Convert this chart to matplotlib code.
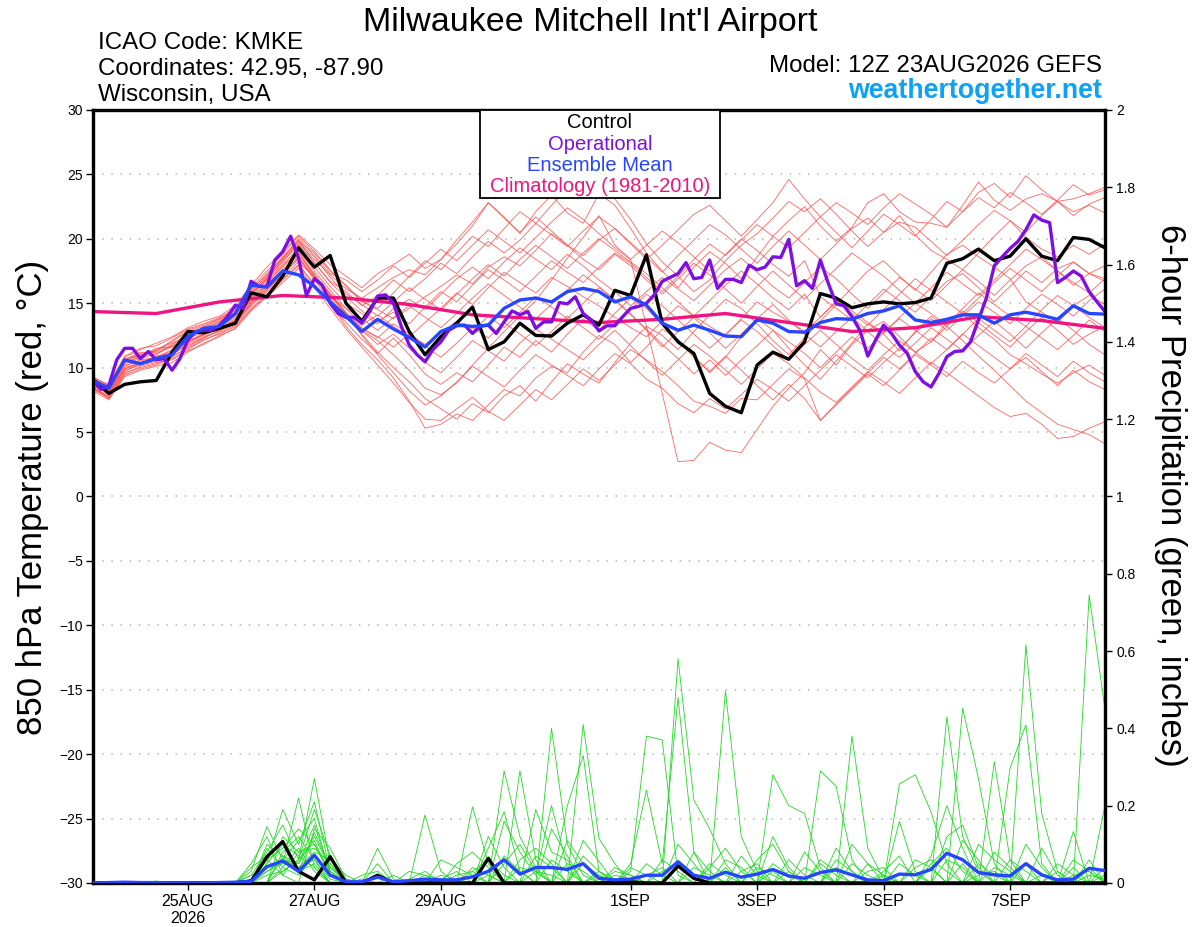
"""
GEFS plume for KMKE: 850 hPa temperature members (red) and 6-hour precipitation members (green).
Output: out.png
"""
import matplotlib; matplotlib.use('Agg')
import matplotlib.pyplot as plt
import matplotlib.dates as mdates
from matplotlib.patches import Rectangle
import numpy as np

plt.rcParams['font.family'] = ['Liberation Sans', 'DejaVu Sans']

# time axes (run 12Z 23AUG2026, 16 days)
T6 = np.arange(np.datetime64('2026-08-23T12'), np.datetime64('2026-09-08T13'), np.timedelta64(6, 'h'))
T3 = np.arange(np.datetime64('2026-08-23T12'), np.datetime64('2026-09-08T13'), np.timedelta64(3, 'h'))
T_CLIM = np.arange(np.datetime64('2026-08-23T12'), np.datetime64('2026-09-08T13'), np.timedelta64(24, 'h'))

TICK_DATES = ['2026-08-25', '2026-08-27', '2026-08-29', '2026-09-01', '2026-09-03', '2026-09-05', '2026-09-07']
TICK_LABELS = ['25AUG\n2026', '27AUG', '29AUG', '1SEP', '3SEP', '5SEP', '7SEP']

# 850 hPa temperature, deg C
CONTROL_T = [9.1, 8.0, 8.7, 8.9, 9.0, 11.2, 12.8, 12.7, 13.05, 13.45, 15.8, 15.5, 17.1, 19.3, 17.8, 18.7,
             15.0, 13.6, 15.4, 15.4, 12.8, 11.0, 12.4, 13.45, 14.7, 11.4, 12.0, 13.45, 12.5, 12.45, 13.45, 14.1,
             13.3, 16.0, 15.6, 18.75, 13.45, 12.0, 11.1, 8.0, 7.0, 6.5, 10.2, 11.2, 10.65, 12.0, 15.75, 15.4,
             14.65, 14.95, 15.1, 14.95, 15.05, 15.4, 18.1, 18.45, 19.2, 18.3, 18.65, 20.0, 18.65, 18.3, 20.1, 19.95, 19.3]
MEAN_T = [9.0, 8.4, 10.6, 10.3, 10.7, 11.0, 12.4, 13.05, 13.2, 14.2, 16.4, 16.25, 17.5, 17.2, 16.3, 15.1,
          14.0, 12.8, 13.75, 13.0, 12.35, 11.6, 12.8, 13.3, 13.2, 13.3, 14.6, 15.25, 15.4, 15.1, 15.9, 16.15,
          15.9, 15.1, 15.5, 14.85, 13.45, 12.9, 13.3, 12.9, 12.45, 12.4, 13.7, 13.45, 12.8, 12.75, 13.5, 13.8,
          13.75, 14.2, 14.4, 14.8, 13.7, 13.5, 13.75, 14.1, 14.1, 13.45, 14.1, 14.3, 14.05, 13.75, 14.8, 14.2, 14.15]
# operational run, 3-hourly
OPER_T = [9.0, 8.3, 8.6, 10.6, 11.5, 11.5, 10.7, 11.25, 10.6, 10.7, 9.8, 10.7, 12.15, 12.8, 12.9, 12.9,
          13.3, 13.95, 14.85, 14.6, 16.7, 16.3, 16.3, 18.35, 19.0, 20.2, 18.5, 15.6, 16.9, 16.4, 15.0, 14.2,
          13.9, 13.9, 13.45, 14.35, 15.55, 15.65, 15.0, 13.2, 11.75, 11.0, 10.45, 11.4, 12.0, 12.9, 13.25, 13.3,
          12.65, 13.2, 13.3, 12.65, 13.55, 14.4, 14.1, 14.35, 13.05, 13.55, 13.55, 15.05, 14.95, 15.5, 14.2, 13.7,
          12.85, 13.25, 13.25, 13.95, 14.6, 14.75, 15.0, 15.65, 16.7, 17.0, 17.3, 18.15, 16.9, 17.0, 18.35, 16.15,
          16.85, 16.85, 16.6, 17.95, 17.6, 17.8, 18.6, 18.55, 19.95, 16.35, 16.75, 16.15, 18.35, 16.55, 14.95, 14.8,
          13.95, 12.9, 10.9, 12.15, 13.3, 12.65, 11.75, 11.1, 9.7, 8.9, 8.5, 9.55, 10.85, 11.25, 11.3, 12.0,
          13.7, 15.4, 17.9, 18.6, 19.25, 19.8, 20.7, 21.85, 21.45, 21.25, 16.6, 17.0, 17.5, 17.1, 15.9, 15.1, 14.35]
# climatology 1981-2010, daily at 12Z
CLIMO_T = [14.35, 14.2, 15.1, 15.6, 15.4, 14.9, 14.1, 13.8, 13.5, 13.75, 14.2, 13.5, 12.8, 13.1, 13.95, 13.65, 13.05]

# ensemble members, 6-hourly
TEMP_MEMBERS = [
    [8.9, 8.3, 10.6, 11.2, 11.0, 11.8, 12.6, 13.1, 13.5, 14.3, 15.8, 16.9, 18.2, 19.6, 18.4, 17.2, 16.1, 15.4, 16.2, 17.0, 17.6, 17.2,
     18.4, 19.6, 21.0, 22.8, 21.7, 20.4, 22.1, 23.4, 22.0, 21.2, 23.5, 22.6, 20.8, 18.9, 17.5, 16.2, 17.8, 19.0, 18.1, 16.9, 18.6, 20.2, 21.4, 22.5,
     21.0, 19.8, 20.9, 22.8, 23.5, 22.1, 21.3, 21.2, 20.9, 22.6, 24.4, 23.0, 22.2, 23.1, 23.5, 22.9, 23.1, 23.5, 24.0],
    [8.5, 7.6, 9.6, 10.0, 10.3, 10.8, 11.6, 12.3, 12.9, 13.5, 15.1, 16.3, 17.5, 18.9, 17.1, 15.8, 14.2, 12.9, 12.1, 11.0, 9.8, 8.4,
     7.9, 8.8, 10.2, 11.5, 12.8, 14.0, 15.2, 16.8, 18.5, 20.1, 21.8, 19.5, 18.4, 13.2, 8.0, 2.7, 2.8, 4.2, 3.6, 3.4, 5.2, 7.0, 8.4, 9.6,
     11.4, 10.2, 11.8, 12.9, 13.6, 12.4, 11.2, 12.0, 13.5, 14.2, 13.1, 12.2, 11.0, 10.3, 9.5, 8.8, 9.6, 10.2, 9.4],
    [8.2, 7.5, 9.3, 9.8, 10.1, 10.4, 11.2, 11.9, 12.4, 13.1, 14.5, 15.6, 16.8, 17.9, 16.4, 15.0, 13.2, 11.8, 10.6, 9.2, 7.4, 5.3,
     5.6, 6.4, 5.9, 7.1, 8.3, 7.8, 9.2, 10.1, 9.6, 11.2, 12.5, 11.8, 10.4, 11.6, 13.0, 12.2, 10.9, 9.6, 10.8, 12.4, 13.8, 12.9, 11.5, 10.2,
     9.1, 10.5, 11.9, 13.4, 12.6, 11.3, 12.8, 14.0, 13.2, 12.1, 10.9, 9.8, 8.6, 7.4, 6.5, 5.6, 5.2, 4.8, 4.1],
    [9.3, 8.6, 10.9, 11.5, 11.7, 12.3, 13.0, 13.4, 13.9, 14.6, 16.2, 17.5, 18.8, 20.2, 19.0, 17.6, 16.3, 15.1, 14.6, 15.8, 17.1, 18.3,
     17.6, 18.9, 20.2, 19.4, 20.8, 22.1, 21.2, 22.6, 23.9, 24.6, 23.8, 23.1, 21.5, 19.6, 18.2, 17.1, 15.9, 16.8, 18.3, 19.5, 20.4, 21.6, 22.9, 22.1,
     23.1, 21.9, 20.6, 19.4, 20.5, 21.8, 20.3, 19.1, 18.4, 17.6, 18.9, 20.2, 21.4, 20.1, 19.2, 18.6, 19.5, 18.8, 19.6],
    [8.7, 8.0, 10.0, 10.4, 10.7, 11.2, 12.0, 12.5, 13.0, 13.7, 15.3, 16.6, 17.9, 19.1, 17.5, 16.0, 14.6, 13.3, 14.1, 13.2, 12.4, 13.5,
     14.6, 15.8, 14.9, 16.2, 17.4, 16.6, 15.8, 17.0, 16.3, 15.5, 14.8, 13.9, 13.1, 12.4, 13.6, 14.8, 14.0, 13.2, 12.5, 13.8, 15.1, 14.3, 13.6, 12.8,
     13.9, 15.2, 14.4, 13.5, 12.7, 13.9, 15.0, 14.2, 13.3, 14.6, 15.8, 14.9, 14.0, 13.2, 14.5, 15.6, 14.8, 13.9, 13.1],
    [8.4, 7.8, 9.8, 10.2, 10.5, 10.9, 11.5, 12.1, 12.7, 13.3, 14.8, 15.9, 17.1, 18.2, 17.0, 15.4, 14.0, 12.6, 11.2, 10.0, 8.9, 7.6,
     6.8, 6.0, 7.2, 6.5, 7.8, 8.6, 7.4, 8.9, 10.3, 9.5, 8.8, 10.4, 11.9, 13.2, 12.5, 11.4, 12.8, 14.1, 15.3, 14.6, 13.4, 12.1, 11.0, 12.3,
     13.6, 14.9, 16.2, 17.5, 18.3, 17.1, 16.0, 17.4, 18.8, 19.5, 18.6, 17.8, 16.9, 15.1, 14.3, 13.5, 14.8, 15.6, 14.9],
    [9.0, 8.4, 10.4, 10.8, 11.3, 11.9, 12.4, 12.9, 13.6, 14.1, 15.6, 17.0, 18.5, 19.8, 18.9, 17.5, 16.4, 15.2, 14.5, 13.8, 14.6, 15.5,
     16.3, 17.2, 16.5, 17.8, 18.6, 17.9, 19.1, 20.4, 19.5, 18.7, 19.9, 20.8, 19.6, 18.4, 19.5, 20.7, 21.9, 22.6, 21.4, 20.2, 21.5, 22.8, 24.6, 23.1,
     21.7, 20.5, 19.3, 20.6, 21.9, 21.1, 20.2, 21.5, 22.9, 22.1, 23.6, 24.3, 23.2, 24.9, 23.8, 22.9, 21.8, 22.7, 23.2],
    [8.6, 7.9, 9.9, 10.3, 10.9, 11.1, 11.9, 12.6, 13.1, 13.6, 15.0, 16.1, 17.2, 18.6, 16.8, 15.2, 13.8, 12.9, 11.8, 12.6, 11.5, 10.4,
     9.6, 10.8, 12.1, 11.3, 10.5, 11.9, 13.0, 12.2, 11.4, 10.6, 11.8, 12.9, 11.7, 10.5, 9.4, 10.6, 11.8, 10.9, 9.8, 8.7, 9.9, 11.1, 10.3, 9.2,
     8.1, 7.3, 8.5, 9.7, 8.9, 8.0, 9.2, 10.4, 9.6, 8.7, 7.8, 6.9, 6.2, 6.45, 5.6, 4.5, 4.65, 5.3, 5.8],
    [9.1, 8.5, 10.7, 10.9, 11.4, 12.0, 12.8, 13.2, 13.8, 14.4, 16.0, 17.3, 18.6, 19.9, 18.1, 16.7, 15.9, 14.8, 15.6, 16.8, 15.9, 16.9,
     18.1, 17.3, 18.6, 19.8, 18.9, 19.9, 21.2, 20.3, 19.4, 20.6, 21.7, 20.8, 19.7, 18.6, 17.4, 18.7, 19.9, 21.1, 20.3, 19.2, 18.1, 19.4, 20.6, 19.5,
     18.4, 19.6, 20.8, 21.6, 20.5, 21.3, 20.9, 19.8, 18.7, 19.9, 21.1, 22.2, 21.4, 20.5, 21.8, 22.9, 22.1, 22.6, 22.0],
    [8.3, 7.7, 9.5, 10.1, 10.4, 10.6, 11.4, 12.2, 12.6, 13.2, 14.6, 15.7, 16.9, 18.0, 16.5, 14.9, 13.5, 12.2, 11.1, 12.3, 11.0, 9.5,
     8.7, 9.6, 8.9, 10.2, 11.6, 10.8, 12.1, 11.2, 12.6, 13.8, 12.9, 14.2, 15.4, 14.6, 13.3, 12.1, 10.8, 9.7, 10.9, 9.8, 8.6, 7.5, 8.7, 7.6,
     5.9, 7.1, 8.3, 9.5, 8.6, 9.8, 11.0, 10.2, 9.3, 10.5, 9.6, 8.8, 9.9, 10.8, 9.7, 8.6, 9.8, 8.9, 8.3],
    [8.9, 8.2, 10.3, 10.7, 11.1, 11.6, 12.3, 12.7, 13.4, 14.0, 15.5, 16.8, 18.0, 19.3, 17.8, 16.3, 15.0, 14.2, 13.4, 14.6, 15.3, 14.5,
     15.7, 16.9, 17.8, 16.9, 18.2, 19.3, 18.4, 17.6, 18.8, 17.9, 16.8, 15.9, 14.8, 15.9, 17.0, 16.1, 15.2, 16.4, 17.6, 18.5, 17.4, 16.3, 15.4, 16.6,
     17.8, 16.9, 15.7, 14.6, 15.8, 17.0, 16.1, 15.2, 16.4, 17.6, 16.7, 15.6, 16.8, 17.9, 18.6, 17.5, 16.4, 17.3, 17.9],
    [8.8, 8.0, 10.1, 10.6, 10.8, 11.4, 12.1, 12.6, 13.0, 13.8, 15.2, 16.4, 17.6, 18.7, 17.3, 15.7, 14.3, 13.0, 12.4, 11.6, 12.6, 11.8,
     12.7, 13.6, 12.8, 14.0, 13.1, 14.3, 15.5, 14.7, 13.8, 15.0, 16.2, 15.3, 14.2, 12.9, 11.6, 12.8, 13.9, 12.7, 11.5, 12.6, 13.8, 14.9, 13.7, 12.6,
     11.6, 12.8, 13.9, 12.8, 11.7, 10.8, 11.9, 13.1, 12.2, 11.3, 12.5, 13.6, 12.6, 11.5, 12.7, 13.8, 12.9, 11.8, 11.0],
    [8.5, 7.7, 9.7, 10.3, 10.6, 11.0, 11.8, 12.4, 12.8, 13.4, 14.9, 16.0, 17.3, 18.4, 17.0, 15.6, 14.1, 12.5, 11.0, 9.6, 8.2, 7.1,
     7.8, 8.9, 10.1, 9.3, 8.5, 9.8, 11.0, 10.2, 9.4, 8.6, 9.9, 11.1, 10.3, 9.1, 8.4, 7.2, 6.5, 7.6, 6.8, 7.9, 9.1, 8.3, 7.4, 8.6,
     9.8, 11.0, 10.1, 9.2, 10.4, 11.5, 12.7, 13.8, 12.9, 14.0, 15.1, 14.3, 13.4, 14.6, 15.7, 14.9, 14.0, 15.2, 16.1],
    [9.2, 8.7, 10.8, 11.4, 11.9, 12.4, 13.1, 13.6, 14.0, 14.8, 16.4, 17.8, 19.0, 20.3, 19.2, 18.0, 17.1, 16.2, 17.3, 18.0, 18.8, 17.7,
     18.4, 19.9, 21.3, 22.8, 21.6, 20.5, 21.7, 20.6, 19.5, 18.4, 17.6, 18.8, 17.9, 16.8, 15.7, 16.9, 18.1, 17.2, 16.1, 15.0, 16.3, 17.5, 16.4, 15.3,
     16.5, 17.7, 18.9, 18.0, 17.1, 16.0, 15.0, 16.2, 17.4, 16.5, 15.6, 16.8, 18.0, 19.2, 18.4, 17.5, 16.6, 15.8, 16.9],
    [8.7, 8.1, 10.2, 10.5, 10.8, 11.3, 12.0, 12.6, 13.2, 13.9, 15.4, 16.5, 17.8, 19.0, 17.2, 15.5, 14.6, 13.8, 12.9, 13.9, 14.8, 13.9,
     13.1, 14.2, 15.4, 16.5, 15.6, 14.7, 13.8, 14.9, 16.0, 17.2, 16.3, 15.2, 14.1, 13.0, 11.8, 10.7, 9.5, 10.6, 9.4, 10.6, 11.7, 12.9, 12.0, 11.1,
     10.0, 11.2, 12.4, 11.5, 12.7, 13.8, 12.9, 12.0, 13.2, 14.4, 13.5, 12.5, 11.6, 12.8, 13.9, 12.9, 11.8, 12.6, 13.2],
    [9.0, 8.3, 10.5, 11.0, 11.2, 11.7, 12.5, 13.0, 13.3, 14.2, 15.7, 16.9, 18.3, 19.5, 18.2, 16.6, 15.5, 14.4, 13.6, 14.3, 13.4, 14.7,
     15.9, 15.1, 16.4, 17.6, 16.8, 15.9, 17.1, 18.3, 17.4, 16.6, 17.8, 18.9, 18.1, 17.0, 15.9, 17.1, 18.4, 19.6, 18.7, 19.9, 21.1, 20.2, 19.3, 20.5,
     21.7, 22.8, 22.0, 21.1, 22.4, 23.5, 22.7, 21.9, 20.9, 22.1, 23.2, 22.4, 23.6, 22.8, 21.9, 23.0, 24.2, 23.4, 23.8],
    [8.4, 7.6, 9.4, 9.9, 10.2, 10.7, 11.3, 11.8, 12.5, 13.0, 14.4, 15.5, 16.6, 17.7, 16.2, 14.6, 13.0, 11.6, 10.2, 8.8, 7.3, 6.0,
     5.9, 6.8, 7.7, 6.6, 5.9, 7.1, 8.3, 7.5, 8.7, 9.9, 9.0, 10.2, 11.4, 10.6, 9.7, 8.6, 7.4, 7.0, 6.45, 7.6, 7.5, 8.7, 9.9, 9.1,
     5.9, 7.2, 8.4, 9.6, 10.8, 9.9, 11.1, 12.3, 11.4, 12.6, 13.8, 12.9, 12.0, 13.2, 12.3, 11.4, 12.5, 13.7, 12.8],
    [8.9, 8.4, 10.4, 10.9, 11.5, 11.6, 12.4, 13.1, 13.7, 14.3, 15.9, 17.1, 18.4, 19.7, 18.6, 17.0, 15.7, 14.9, 14.0, 15.1, 16.2, 15.3,
     14.5, 15.7, 16.9, 18.0, 17.1, 18.4, 19.5, 18.6, 17.7, 18.9, 20.0, 19.1, 18.2, 17.3, 16.2, 15.1, 14.0, 15.2, 16.4, 17.5, 16.5, 15.4, 14.5, 15.7,
     13.9, 15.1, 14.2, 13.3, 14.5, 15.7, 16.9, 16.0, 15.1, 14.2, 15.4, 16.6, 17.7, 16.8, 15.9, 17.1, 18.2, 17.3, 16.7],
    [8.6, 8.0, 9.9, 10.4, 10.7, 11.1, 11.7, 12.3, 12.9, 13.5, 15.0, 16.2, 17.4, 18.5, 17.1, 15.6, 14.2, 13.1, 12.3, 13.4, 12.6, 11.7,
     10.8, 11.9, 13.1, 12.3, 13.5, 12.6, 11.7, 12.8, 14.0, 13.1, 12.2, 13.4, 14.5, 15.7, 14.8, 13.7, 12.6, 11.5, 12.6, 13.7, 12.8, 11.7, 10.6, 11.8,
     12.9, 11.8, 10.7, 9.8, 11.0, 12.1, 11.2, 10.3, 11.4, 12.6, 11.7, 10.8, 9.9, 11.1, 10.2, 9.3, 10.5, 9.6, 8.9],
    [9.1, 8.6, 10.6, 11.1, 11.3, 12.1, 12.9, 13.3, 13.8, 14.5, 16.1, 17.2, 18.5, 20.0, 18.7, 17.3, 16.8, 15.9, 16.8, 17.9, 17.0, 18.1,
     19.2, 18.3, 19.5, 20.7, 19.8, 18.9, 20.1, 21.3, 22.4, 21.5, 20.4, 19.3, 18.4, 19.5, 20.6, 19.7, 18.6, 17.5, 18.8, 20.0, 19.1, 18.0, 17.1, 18.3,
     15.5, 14.6, 13.7, 14.9, 16.1, 15.2, 14.3, 15.5, 16.7, 17.3, 16.2, 15.1, 16.3, 17.5, 16.6, 17.7, 18.2, 17.3, 16.9],
]

# 6-hour precipitation, inches
CONTROL_P = [0, 0, 0, 0, 0, 0, 0, 0, 0, 0, 0.005, 0.068, 0.107, 0.03, 0.008, 0.068, 0, 0, 0.02, 0, 0, 0, 0, 0, 0, 0.064, 0, 0, 0, 0, 0, 0,
             0, 0.002, 0.003, 0, 0, 0.044, 0.012, 0, 0, 0, 0, 0, 0, 0, 0, 0, 0, 0, 0, 0, 0, 0, 0, 0, 0, 0, 0, 0, 0, 0, 0, 0, 0]
MEAN_P = [0, 0.001, 0.002, 0.001, 0.001, 0, 0, 0, 0.001, 0.002, 0.004, 0.042, 0.057, 0.03, 0.072, 0.02, 0.003, 0.003, 0.015, 0.003,
          0.006, 0.01, 0.008, 0.008, 0.016, 0.03, 0.06, 0.023, 0.04, 0.04, 0.035, 0.05, 0.012, 0.008, 0.01, 0.02, 0.02, 0.055, 0.02, 0.012,
          0.028, 0.015, 0.023, 0.035, 0.018, 0.012, 0.027, 0.034, 0.021, 0.008, 0.006, 0.023, 0.021, 0.035, 0.077, 0.06, 0.027, 0.021, 0.018,
          0.05, 0.021, 0.008, 0.01, 0.038, 0.032]
# members: {6-hour step: amount}, steps not listed are dry
PRECIP_MEMBERS = [
    {10: .02, 11: .08, 12: .15, 13: .06, 14: .27, 15: .05, 22: .01, 23: .03, 26: .29, 27: .12, 28: .04, 34: .03, 35: .38, 36: .37, 37: .02,
     43: .28, 44: .2, 45: .18, 46: .04, 54: .43, 55: .12, 56: .03, 63: .745, 64: .45},
    {11: .05, 12: .19, 13: .1, 14: .21, 15: .03, 18: .09, 19: .01, 24: .197, 25: .05, 29: .4, 30: .1, 31: .02, 37: .58, 38: .215, 39: .14,
     40: .05, 48: .38, 49: .09, 50: .01, 59: .616, 60: .18, 61: .03},
    {10: .03, 11: .146, 12: .06, 13: .11, 14: .167, 15: .02, 21: .176, 22: .03, 27: .29, 28: .06, 31: .41, 32: .115, 33: .05, 40: .497,
     41: .12, 42: .03, 51: .256, 52: .28, 53: .184, 54: .05, 57: .314, 58: .06, 64: .2},
    {11: .1, 12: .07, 13: .05, 14: .12, 15: .04, 16: .01, 25: .09, 26: .184, 27: .03, 30: .2, 31: .33, 32: .03, 34: .05, 35: .24, 36: .05,
     37: .48, 38: .08, 46: .29, 47: .25, 48: .06, 55: .452, 56: .27, 57: .05, 62: .133},
    {12: .12, 13: .08, 14: .09, 15: .05, 17: .02, 18: .03, 28: .19, 29: .08, 30: .06, 33: .03, 34: .02, 41: .07, 42: .02, 47: .09, 48: .03,
     51: .159, 52: .03, 58: .297, 59: .409, 60: .05},
    {10: .01, 11: .06, 12: .09, 13: .14, 14: .1, 15: .02, 22: .06, 23: .04, 24: .02, 31: .11, 32: .056, 36: .06, 37: .03, 43: .12, 44: .04,
     53: .07, 54: .2, 55: .09, 61: .05, 62: .02},
    {11: .04, 12: .05, 13: .22, 14: .04, 18: .05, 26: .16, 27: .08, 28: .02, 29: .2, 30: .04, 38: .08, 39: .03, 44: .06, 45: .02, 49: .05,
     50: .02, 56: .1, 57: .06, 58: .03, 63: .06},
    {10: .04, 11: .07, 12: .11, 13: .03, 14: .05, 20: .01, 21: .03, 25: .12, 26: .04, 32: .03, 33: .01, 42: .06, 43: .1, 44: .03, 52: .06,
     53: .04, 59: .1, 60: .04},
    {11: .03, 12: .06, 13: .04, 14: .08, 15: .06, 16: .02, 23: .05, 24: .08, 25: .04, 30: .11, 31: .05, 39: .04, 40: .09, 41: .03, 48: .05,
     49: .02, 54: .12, 55: .15, 56: .04, 62: .04},
    {12: .04, 13: .09, 14: .03, 19: .02, 27: .06, 28: .09, 29: .05, 35: .05, 36: .02, 45: .08, 46: .03, 50: .03, 51: .07, 57: .08, 58: .04,
     64: .02},
    {10: .05, 11: .12, 12: .02, 14: .14, 15: .09, 16: .01, 24: .04, 25: .02, 29: .14, 30: .07, 37: .1, 38: .05, 43: .05, 44: .02, 53: .05,
     54: .09, 55: .03, 60: .09, 61: .02},
    {11: .02, 12: .03, 13: .06, 14: .19, 15: .07, 22: .02, 23: .01, 28: .07, 29: .04, 33: .02, 34: .01, 42: .04, 43: .02, 48: .1, 49: .05,
     56: .05, 57: .02, 62: .02, 63: .03},
    {12: .08, 13: .12, 14: .06, 18: .02, 26: .05, 27: .1, 28: .03, 31: .05, 32: .02, 40: .06, 41: .04, 47: .04, 48: .02, 55: .11, 56: .06,
     59: .05},
    {11: .05, 12: .1, 13: .07, 14: .04, 20: .03, 21: .02, 30: .05, 31: .03, 36: .03, 37: .05, 38: .02, 46: .05, 47: .02, 52: .04, 53: .06,
     54: .03, 63: .02, 64: .01},
    {1: .004, 10: .02, 11: .04, 12: .06, 13: .05, 14: .15, 15: .03, 24: .03, 25: .06, 26: .02, 33: .04, 34: .02, 39: .05, 40: .02, 49: .03,
     50: .04, 57: .04, 58: .02},
    {12: .03, 13: .06, 14: .11, 15: .02, 17: .01, 27: .04, 28: .03, 32: .02, 41: .03, 42: .05, 45: .04, 46: .02, 54: .06, 55: .04, 61: .03},
    {11: .09, 12: .04, 13: .02, 14: .07, 15: .02, 23: .02, 24: .03, 29: .06, 30: .03, 38: .04, 39: .02, 44: .03, 51: .05, 52: .02, 58: .06,
     59: .03},
    {12: .07, 13: .03, 14: .13, 15: .04, 21: .02, 22: .01, 26: .07, 27: .03, 35: .02, 36: .04, 43: .03, 47: .06, 48: .03, 56: .02, 57: .03,
     64: .04},
    {4: .005, 11: .06, 12: .02, 13: .08, 14: .1, 15: .03, 25: .02, 31: .07, 32: .03, 40: .04, 50: .02, 55: .05, 60: .02, 63: .04},
    {0: .002, 11: .03, 12: .05, 13: .04, 14: .06, 15: .01, 28: .03, 29: .02, 34: .04, 35: .02, 46: .06, 47: .03, 53: .04, 62: .06, 63: .03},
]

LEGEND = [('Control', 'black'), ('Operational', '#7f0fe0'), ('Ensemble Mean', '#2545ff'), ('Climatology (1981-2010)', '#f01480')]

x6, x3, xc = mdates.date2num(T6), mdates.date2num(T3), mdates.date2num(T_CLIM)

fig = plt.figure(figsize=(12, 9.27), dpi=100)
ax = fig.add_axes([0.0775, 0.0475, 0.8433, 0.8339])
ax2 = ax.twinx()

# temperature
for m in TEMP_MEMBERS:
    ax.plot(x6, m, color='#ff4a4a', lw=0.6, alpha=0.85, zorder=2)
ax.plot(xc, CLIMO_T, color=LEGEND[3][1], lw=2.4, zorder=3)
ax.plot(x6, CONTROL_T, color=LEGEND[0][1], lw=2.4, zorder=4)
ax.plot(x3, OPER_T, color=LEGEND[1][1], lw=2.4, zorder=5)
ax.plot(x6, MEAN_T, color=LEGEND[2][1], lw=2.4, zorder=6)

# precipitation
for d in PRECIP_MEMBERS:
    p = np.zeros(len(x6)); p[list(d.keys())] = list(d.values())
    ax2.plot(x6, p, color='#22d822', lw=0.6, zorder=2)
ax2.plot(x6, CONTROL_P, color='black', lw=2.4, zorder=4)
ax2.plot(x6, MEAN_P, color=LEGEND[2][1], lw=2.4, zorder=5)

ax.set_xlim(x6[0], x6[-1]); ax.set_ylim(-30, 30); ax2.set_ylim(0, 2)
ax.set_yticks(range(-30, 31, 5))
for v in range(-25, 30, 5):
    ax.axhline(v, color='#b4b4b4', lw=1.1, ls=(0, (1, 5)), zorder=1)
ax2.set_yticks(np.arange(0, 2.01, 0.2))
ax2.set_yticklabels([f'{v:g}' for v in np.arange(0, 2.01, 0.2).round(1)])
ax.set_xticks(mdates.date2num(np.array(TICK_DATES, dtype='datetime64[h]')))
ax.set_xticklabels(TICK_LABELS, fontsize=11.5, linespacing=1.15)
ax.tick_params(axis='y', direction='out', length=5, width=1, labelsize=10, pad=2)
ax.tick_params(axis='x', direction='out', length=5, width=1, pad=3)
ax2.tick_params(axis='y', direction='out', length=5, width=1, labelsize=10, pad=3)
for a in (ax, ax2):
    for s in a.spines.values(): s.set_linewidth(2.3)

# legend box
bx0, by0, bw, bh = 0.3824, 0.886, 0.2372, 0.114
ax2.add_patch(Rectangle((bx0, by0), bw, bh, transform=ax2.transAxes, facecolor='white', edgecolor='black', lw=1.3, zorder=10))
for k, (lab, c) in enumerate(LEGEND):
    ax2.text(bx0 + bw / 2, 0.9835 - k * 0.0277, lab, color=c, fontsize=14.5, ha='center', va='center', transform=ax2.transAxes, zorder=11)

# header
fig.text(0.4917, 0.9666, "Milwaukee Mitchell Int'l Airport", fontsize=24.5, ha='center', va='baseline')
for k, line in enumerate(['ICAO Code: KMKE', 'Coordinates: 42.95, -87.90', 'Wisconsin, USA']):
    fig.text(0.0817, 0.9471 - k * 0.02805, line, fontsize=17.4, ha='left', va='baseline')
fig.text(0.9183, 0.9223, 'Model: 12Z 23AUG2026 GEFS', fontsize=17.4, ha='right', va='baseline')
fig.text(0.9183, 0.8943, 'weathertogether.net', fontsize=19.3, fontweight='bold', color='#0ea2f6', ha='right', va='baseline')
fig.text(0.027, 0.4639, '850 hPa Temperature (red, °C)', fontsize=25, rotation=90, ha='center', va='center')
fig.text(0.975, 0.466, '6-hour Precipitation (green, inches)', fontsize=25, rotation=270, ha='center', va='center')

fig.savefig('out.png', dpi=100)
